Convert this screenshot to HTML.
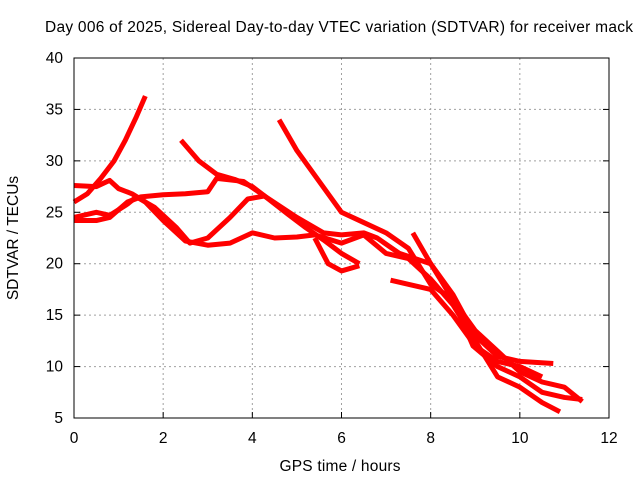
<!DOCTYPE html>
<html><head><meta charset="utf-8"><style>
body{margin:0;background:#fff;font-family:"Liberation Sans",sans-serif}
svg text{font-family:"Liberation Sans",sans-serif;font-size:15.5px;fill:#000}
</style></head><body>
<svg id="c" width="640" height="480">
<text x="339" y="32" text-anchor="middle" textLength="588">Day 006 of 2025, Sidereal Day-to-day VTEC variation (SDTVAR) for receiver mack</text>
<text x="340" y="471" text-anchor="middle" textLength="121">GPS time / hours</text>
<text transform="translate(18,238) rotate(-90)" text-anchor="middle">SDTVAR / TECUs</text>
<g id="grid"></g><g id="series"></g>
<rect x="74" y="58" width="535" height="360" fill="none" stroke="#000" stroke-width="1"/>
</svg>
<script>
const xTicks=[0,2,4,6,8,10,12];
const yTicks=[5,10,15,20,25,30,35,40];
const s1=[[0,26],[0.3,26.8],[0.6,28.3],[0.9,30],[1.15,32],[1.4,34.3],[1.6,36.3]];
const s2=[[0,27.6],[0.5,27.5],[0.8,28.1],[1.0,27.3],[1.3,26.8],[1.6,26],[2.0,24.2],[2.5,22.2],[3,21.8],[3.5,22],[4,23],[4.5,22.5],[5,22.6],[5.4,22.8],[6,22],[6.5,22.8],[7,21],[7.5,20.5],[8,18.5],[8.5,16],[9,12.5],[9.5,9],[10,8],[10.5,6.5],[10.9,5.6]];
const s3=[[0,24.2],[0.5,24.2],[0.8,24.5],[1.2,26],[1.5,26.5],[2,26.7],[2.5,26.8],[3,27],[3.2,28.3],[3.8,28],[4.3,26.5],[5,24.5],[5.6,23],[6,22.8],[6.5,23],[6.8,22.5],[7.3,21],[8,20],[8.5,17],[9,13],[9.5,11],[10,10.5],[10.75,10.3]];
const s4=[[2.4,32],[2.8,30],[3.2,28.7],[3.6,28.2],[4,27.5],[4.3,26.5],[4.8,24.8],[5.2,23.5],[5.6,22.3],[6,21],[6.4,20]];
const s5=[[0,24.5],[0.5,25],[0.8,24.7],[1.2,25.8],[1.4,26.5],[1.8,25.5],[2.3,23.5],[2.6,22],[3,22.5],[3.5,24.5],[3.9,26.3],[4.3,26.6]];
const s6=[[4.6,34],[5,31],[5.5,28],[6,25],[6.5,24],[7,23],[7.5,21.5],[8,18],[8.5,16.5],[9,13.5],[9.5,11.5],[10,9.5],[10.5,8.5],[11,8],[11.4,6.6]];
const s7=[[5.4,22.5],[5.7,20],[6,19.3],[6.4,19.8]];
const s8=[[7.6,23],[8,20],[8.5,16.5],[8.95,12],[9.5,10],[10,9],[10.5,7.5],[11,7],[11.4,6.8]];
const s9=[[7.1,18.4],[7.5,18],[8,17.5],[8.5,15],[9,12],[9.5,10.5],[10,10],[10.5,9]];
const allSeries=[s1,s2,s3,s4,s5,s6,s7,s8,s9];
const X0=74,X1=609,Y0=418,Y1=58;
const xs=v=>X0+(v-0)/12*(X1-X0);
const ys=v=>Y0-(v-5)/35*(Y0-Y1);
const NS="http://www.w3.org/2000/svg";
const grid=document.getElementById('grid'),ser=document.getElementById('series');
function mk(t,a,p){const e=document.createElementNS(NS,t);for(const k in a)e.setAttribute(k,a[k]);p.appendChild(e);return e;}
xTicks.forEach(t=>{const x=xs(t);
 if(t>0&&t<12){const g=mk('line',{x1:x,x2:x,y1:Y1,y2:Y0,stroke:'#a0a0a0','stroke-dasharray':'2,3'},grid);
 
 }
 const tk=mk('line',{x1:x,x2:x,y1:Y0,y2:Y0-6,stroke:'#000'},grid);
 
 
 const tx=mk('text',{x:x,y:443,'text-anchor':'middle'},grid);tx.textContent=t;
 
 });
yTicks.forEach(t=>{const y=ys(t);
 if(t>5&&t<40){const g=mk('line',{x1:X0,x2:X1,y1:y,y2:y,stroke:'#a0a0a0','stroke-dasharray':'2,3'},grid);
 
 }
 const tk=mk('line',{x1:X0,x2:X0+6,y1:y,y2:y,stroke:'#000'},grid);
 
 
 const tk2=mk('line',{x1:X1,x2:X1-6,y1:y,y2:y,stroke:'#000'},grid);
 
 
 const tx=mk('text',{x:X0-11,y:y+5,'text-anchor':'end'},grid);tx.textContent=t;
 
 });
allSeries.forEach((s,i)=>{const p=mk('polyline',{points:s.map(d=>xs(d[0])+','+ys(d[1])).join(' '),fill:'none',stroke:'#ff0000','stroke-width':5,'stroke-linejoin':'round'},ser);
 
 });
</script>
</body></html>
